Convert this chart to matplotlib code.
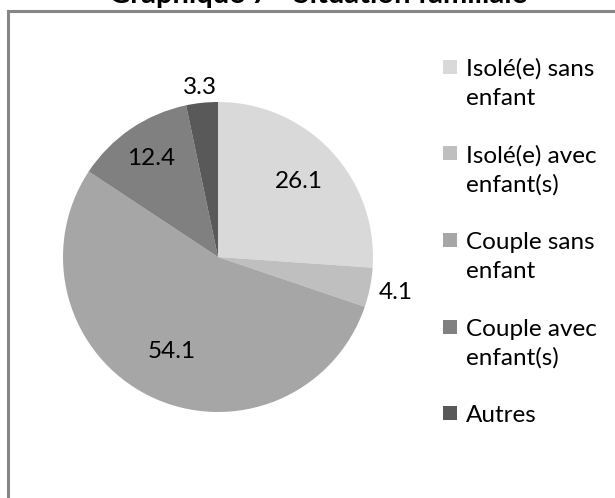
import matplotlib
matplotlib.use("Agg")
import matplotlib.pyplot as plt
from matplotlib.patches import Rectangle
import numpy as np

categories = ["Isolé(e) sans\nenfant", "Isolé(e) avec\nenfant(s)", "Couple sans\nenfant",
              "Couple avec\nenfant(s)", "Autres"]
values = [26.1, 4.1, 54.1, 12.4, 3.3]
colors = ["#d9d9d9", "#bfbfbf", "#a6a6a6", "#808080", "#595959"]
title = "Graphique 7 - Situation familiale"

plt.rcParams['font.family'] = ['Lato', 'DejaVu Sans']

W, H = 615, 498
fig = plt.figure(figsize=(W / 100, H / 100), dpi=100)

def fx(px):
    return px / W

def fy(py):
    return 1 - py / H

# frame (extends beyond right and bottom edges, as in the reference)
fig.patches.append(Rectangle((fx(8), fy(560)), 700 / W, (560 - 11) / H,
                             transform=fig.transFigure, fill=False,
                             edgecolor="#868686", linewidth=2.2))

cx, cy, r = 218, 257, 155
ax = fig.add_axes([fx(cx - r), fy(cy + r), 2 * r / W, 2 * r / H])
wedges, _ = ax.pie(values, colors=colors, startangle=90, counterclock=False,
                   wedgeprops=dict(linewidth=0))
ax.set_xlim(-1, 1)
ax.set_ylim(-1, 1)
ax.axis("off")

dists = [0.71, 1.17, 0.68, 0.77, 1.10]
for w, v, d in zip(wedges, values, dists):
    ang = np.deg2rad((w.theta1 + w.theta2) / 2)
    ax.text(d * np.cos(ang), d * np.sin(ang), f"{v:.1f}", ha="center", va="center",
            fontsize=17.5, color="black", clip_on=False)

# legend drawn manually: square aligned with the first line of each entry
base0, pitch, line_pitch = 76, 86.5, 29
for i, (lab, c) in enumerate(zip(categories, colors)):
    yb = base0 + pitch * i
    fig.patches.append(Rectangle((fx(443), fy(yb - 2)), 14 / W, 14 / H,
                                 transform=fig.transFigure, facecolor=c, edgecolor="none"))
    for j, line in enumerate(lab.split("\n")):
        fig.text(fx(466), fy(yb + line_pitch * j), line, ha="left", va="baseline",
                 fontsize=17.5, color="black")

fig.text(fx(318), fy(2.5), title, ha="center", va="baseline", fontsize=21, fontweight="bold")

fig.savefig("out.png", dpi=100)
